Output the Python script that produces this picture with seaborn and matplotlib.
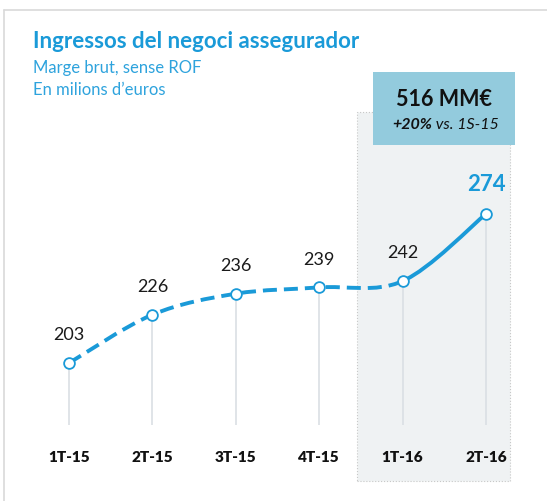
import matplotlib
matplotlib.use("Agg")
import matplotlib.pyplot as plt
import seaborn as sns
import pandas as pd
import numpy as np
from matplotlib.path import Path
from matplotlib.patches import PathPatch, Rectangle

# Data
quarters = ['1T-15', '2T-15', '3T-15', '4T-15', '1T-16', '2T-16']
income = [203, 226, 236, 239, 242, 274]

title = 'Ingressos del negoci assegurador'
subtitle1 = 'Marge brut, sense ROF'
subtitle2 = 'En milions d\u2019euros'
box_total = '516 MM\u20ac'
box_growth = '+20%'
box_vs = ' vs. 1S-15'

df = pd.DataFrame({'quarter': quarters, 'income': income, 'pos': range(len(quarters))})

BLUE = '#1a9ad8'
W, H = 547, 501

sns.set_theme(style='white')
plt.rcParams['font.family'] = ['Lato', 'DejaVu Sans']

fig = plt.figure(figsize=(W / 100, H / 100), dpi=100)
fig.patch.set_facecolor('white')


def fx(px):
    return px / W


def fy(py):
    return 1 - py / H


# outer frame (top and left lines)
fig.add_artist(plt.Line2D([fx(4), 1], [fy(10), fy(10)], color='#d9d9d9', lw=1.2))
fig.add_artist(plt.Line2D([fx(4), fx(4)], [fy(10), 0], color='#d9d9d9', lw=1.2))

# shaded 2016 region
fig.add_artist(Rectangle((fx(357), fy(481)), fx(510) - fx(357), fy(112) - fy(481),
                         transform=fig.transFigure, facecolor='#eff2f3',
                         edgecolor='#c8c8c8', lw=0.8, ls=':', zorder=0))

ax = fig.add_axes([fx(27.3), fy(425), fx(527.7) - fx(27.3), fy(112) - fy(425)])
ax.set_facecolor('none')
ax.set_xlim(-0.5, 5.5)
ax.set_ylim(173.5, 322.5)

# vertical drop lines
ax.vlines(df['pos'], 173.5, df['income'], color='#dadfe4', lw=1.2, zorder=1)

# smooth curve (cardinal spline as bezier segments)
pts = np.column_stack([df['pos'].values, df['income'].values]).astype(float)
n = len(pts)


def segment(i):
    p0 = pts[max(i - 1, 0)]
    p1 = pts[i]
    p2 = pts[i + 1]
    p3 = pts[min(i + 2, n - 1)]
    c1 = p1 + (p2 - p0) / 6
    c2 = p2 - (p3 - p1) / 6
    return [p1, c1, c2, p2]


dash_verts, dash_codes = [], []
for i in range(0, 4):
    seg = segment(i)
    if i == 0:
        dash_verts.append(seg[0])
        dash_codes.append(Path.MOVETO)
    dash_verts += seg[1:]
    dash_codes += [Path.CURVE4] * 3
ax.add_patch(PathPatch(Path(dash_verts, dash_codes), fill=False, edgecolor=BLUE,
                       lw=2.8, linestyle=(0, (3.6, 1.8)), capstyle='butt', zorder=2))

seg = segment(4)
ax.add_patch(PathPatch(Path(seg, [Path.MOVETO] + [Path.CURVE4] * 3), fill=False,
                       edgecolor=BLUE, lw=2.8, zorder=2))

sns.scatterplot(data=df, x='pos', y='income', ax=ax, s=60, color='white',
                edgecolor=BLUE, linewidth=1.3, zorder=3, legend=False)

# value labels
for i, (x, v) in enumerate(zip(df['pos'], df['income'])):
    if i == n - 1:
        ax.annotate(str(v), (x, v), xytext=(0, 21), textcoords='offset points',
                    ha='center', va='center', fontsize=16, fontweight='bold', color=BLUE)
    else:
        ax.annotate(str(v), (x, v), xytext=(0, 20), textcoords='offset points',
                    ha='center', va='center', fontsize=13, color='#1a1a1a')

ax.set_xticks(df['pos'])
ax.set_xticklabels(quarters, fontsize=11, fontweight='heavy', color='#111111')
ax.tick_params(axis='x', length=0, pad=19)
ax.set_yticks([])
ax.set_xlabel('')
ax.set_ylabel('')
sns.despine(ax=ax, left=True, bottom=True)

# titles
fig.text(fx(33), fy(42), title, fontsize=16, fontweight='bold', color=BLUE,
         ha='left', va='center')
fig.text(fx(33), fy(68), subtitle1, fontsize=12, color='#2ea3dd', ha='left', va='center')
fig.text(fx(33), fy(90), subtitle2, fontsize=12, color='#2ea3dd', ha='left', va='center')

# highlight box
fig.add_artist(Rectangle((fx(373), fy(145)), fx(515) - fx(373), fy(72) - fy(145),
                         transform=fig.transFigure, facecolor='#93cbdd',
                         edgecolor='none', zorder=5))
fig.text(fx(444), fy(100), box_total, fontsize=15.5, fontweight='bold', color='#111111',
         ha='center', va='center', zorder=6)
fig.text(fx(432), fy(125), box_growth, fontsize=11.5, fontweight='bold', style='italic',
         color='#111111', ha='right', va='center', zorder=6)
fig.text(fx(432), fy(125), box_vs, fontsize=11.5, style='italic',
         color='#111111', ha='left', va='center', zorder=6)

fig.savefig('out.png', dpi=100)
